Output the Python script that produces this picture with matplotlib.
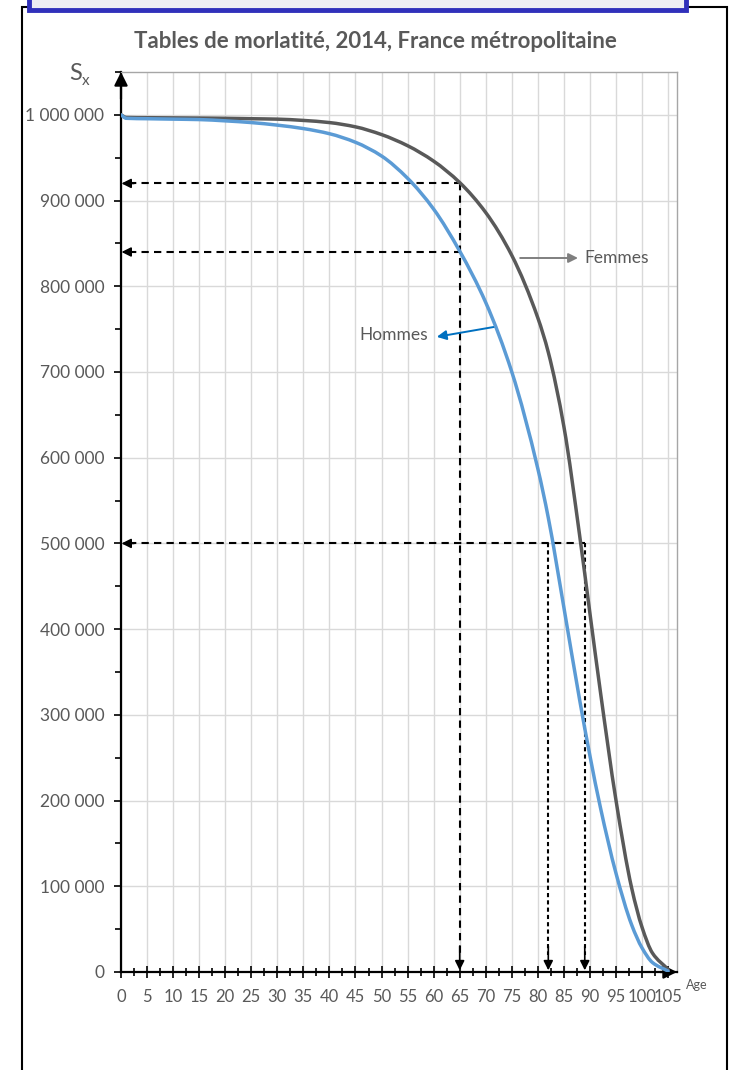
#!/usr/bin/env python3
"""Courbes de survie S_x, tables de mortalite 2014, France metropolitaine."""

import matplotlib
matplotlib.use("Agg")
import matplotlib.pyplot as plt
import numpy as np
from matplotlib.patches import Rectangle, PathPatch
from matplotlib.path import Path
from matplotlib.ticker import MultipleLocator, FuncFormatter

# Values
ages = [0, 1, 5, 10, 15, 20, 25, 30, 35, 40, 45, 50, 55, 60, 65, 70, 75,
        80, 82, 85, 88, 90, 92, 95, 98, 100, 102, 105]
hommes = [1000000, 996000, 995500, 995000, 994500, 993000, 991000, 988000,
          984000, 978000, 968000, 952000, 926000, 890000, 841000, 781000,
          700000, 587000, 530000, 425000, 318000, 252000, 192000, 115000,
          55000, 28000, 11000, 1000]
femmes = [1000000, 997000, 996700, 996500, 996300, 996000, 995500, 995000,
          993500, 991000, 986000, 977000, 964000, 946000, 921000, 886000,
          836000, 763000, 723000, 636000, 510000, 418000, 327000, 200000,
          98000, 52000, 22000, 3000]

age_retraite = 65
s_femmes_65 = 920000
s_hommes_65 = 840000
mediane_hommes = 82
mediane_femmes = 89
s_mediane = 500000

TITLE = "Tables de morlatité, 2014, France métropolitaine"
BLUE = "#5B9BD5"
DARK = "#595959"
TXT = "#595959"

plt.rcParams["font.family"] = ["Lato", "DejaVu Sans"]

W, H = 731, 1070
fig = plt.figure(figsize=(W / 100, H / 100), dpi=100)


def fx(px):
    return px / W


def fy(py):
    return 1 - py / H


def smooth_line(ax, x, y, **kw):
    # smoothed line: cubic Bezier segments through every data point,
    # tangents limited so the curve never overshoots the points
    x = np.asarray(x, float)
    y = np.asarray(y, float)
    h = np.diff(x)
    d = np.diff(y) / h
    m = np.empty_like(y)
    m[0], m[-1] = d[0], d[-1]
    for i in range(1, len(x) - 1):
        if d[i - 1] * d[i] <= 0:
            m[i] = 0.0
        else:
            w1 = 2 * h[i] + h[i - 1]
            w2 = h[i] + 2 * h[i - 1]
            m[i] = (w1 + w2) / (w1 / d[i - 1] + w2 / d[i])
    verts = [(x[0], y[0])]
    codes = [Path.MOVETO]
    for i in range(len(x) - 1):
        t = h[i] / 3
        verts += [(x[i] + t, y[i] + m[i] * t),
                  (x[i + 1] - t, y[i + 1] - m[i + 1] * t),
                  (x[i + 1], y[i + 1])]
        codes += [Path.CURVE4] * 3
    patch = PathPatch(Path(verts, codes), fill=False, **kw)
    ax.add_patch(patch)
    return patch


# outer frames
fig.patches.append(Rectangle((fx(22), fy(1075)), fx(727) - fx(22), fy(7) - fy(1075),
                             transform=fig.transFigure, fill=False,
                             edgecolor="black", lw=1.5))
fig.patches.append(Rectangle((fx(29), fy(10)), fx(686) - fx(29), 0.05,
                             transform=fig.transFigure, facecolor="#eeeef3",
                             edgecolor="#3030BB", lw=3.5))

ax = fig.add_axes([fx(121), fy(972), fx(677) - fx(121), fy(72) - fy(972)])

smooth_line(ax, ages, femmes, edgecolor=DARK, lw=2.5, zorder=4, capstyle="round")
smooth_line(ax, ages, hommes, edgecolor=BLUE, lw=2.5, zorder=5, capstyle="round")

# dashed reading lines
hdash = (0, (3.5, 2.5))
vdot = (0, (2, 1.5))
for s in (s_femmes_65, s_hommes_65):
    ax.plot([1.5, age_retraite], [s, s], color="black", lw=1.5, ls=hdash, zorder=3)
    ax.annotate("", xy=(0.1, s), xytext=(2.5, s),
                arrowprops=dict(arrowstyle="-|>", color="black", lw=1.2,
                                mutation_scale=14, shrinkA=0, shrinkB=0), zorder=6)
ax.plot([1.5, mediane_femmes], [s_mediane, s_mediane], color="black", lw=1.5,
        ls=hdash, zorder=3)
ax.annotate("", xy=(0.1, s_mediane), xytext=(2.5, s_mediane),
            arrowprops=dict(arrowstyle="-|>", color="black", lw=1.2,
                            mutation_scale=14, shrinkA=0, shrinkB=0), zorder=6)

ax.plot([age_retraite, age_retraite], [s_femmes_65, 20000], color="black",
        lw=1.5, ls=hdash, zorder=3)
for a in (mediane_hommes, mediane_femmes):
    ax.plot([a, a], [s_mediane, 20000], color="black", lw=1.5, ls=vdot, zorder=3)
for a in (age_retraite, mediane_hommes, mediane_femmes):
    ax.annotate("", xy=(a, 2000), xytext=(a, 30000),
                arrowprops=dict(arrowstyle="-|>", color="black", lw=1.2,
                                mutation_scale=14, shrinkA=0, shrinkB=0), zorder=6)

# series labels
ax.annotate("", xy=(87.7, 833000), xytext=(76.6, 833000),
            arrowprops=dict(arrowstyle="-|>", color="#7F7F7F", lw=1.4,
                            mutation_scale=14, shrinkA=0, shrinkB=0))
ax.text(89.0, 833000, "Femmes", color=TXT, fontsize=12.5, va="center", ha="left")
ax.annotate("", xy=(60.6, 741000), xytext=(72.0, 753000),
            arrowprops=dict(arrowstyle="-|>", color="#0070C0", lw=1.4,
                            mutation_scale=14, shrinkA=0, shrinkB=0))
ax.text(59.0, 743000, "Hommes", color=TXT, fontsize=12.5, va="center", ha="right")

# axes
ax.set_xlim(0, 106.7)
ax.set_ylim(0, 1050000)
ax.xaxis.set_minor_locator(MultipleLocator(2.5))
ax.set_xticks(range(0, 106, 5))
ax.set_yticks(range(0, 1000001, 100000))
ax.yaxis.set_minor_locator(MultipleLocator(50000))
ax.yaxis.set_major_formatter(FuncFormatter(lambda v, p: f"{int(v):,}".replace(",", " ")))
ax.grid(True, color="#D9D9D9", lw=1, zorder=0)
ax.set_axisbelow(True)

ax.tick_params(axis="x", which="major", direction="inout", length=8, width=1.2,
               color="black", labelcolor=TXT, labelsize=12, pad=8)
ax.tick_params(axis="x", which="minor", direction="inout", length=6, width=1.2,
               color="black")
ax.tick_params(axis="y", which="major", direction="out", length=5, width=1.2,
               color="black", labelcolor=TXT, labelsize=12.5, pad=7)
ax.tick_params(axis="y", which="minor", direction="out", length=4, width=1.2,
               color="black")

for side in ("left", "bottom"):
    ax.spines[side].set_color("black")
    ax.spines[side].set_linewidth(1.6)
for side in ("top", "right"):
    ax.spines[side].set_color("#A6A6A6")
    ax.spines[side].set_linewidth(1)

ax.annotate("", xy=(0, 1.0), xycoords="axes fraction", xytext=(0, 0.97),
            arrowprops=dict(arrowstyle="-|>", color="black", lw=1.6,
                            mutation_scale=20, shrinkA=0, shrinkB=0))
ax.annotate("", xy=(1.0, 0), xycoords="axes fraction", xytext=(0.97, 0),
            arrowprops=dict(arrowstyle="-|>", color="black", lw=1.6,
                            mutation_scale=20, shrinkA=0, shrinkB=0))

# texts
fig.text(fx(375), fy(41), TITLE, ha="center", va="center", fontsize=16,
         fontweight="bold", color=TXT)
fig.text(fx(82), fy(73), "S", ha="right", va="center", fontsize=17, color=TXT)
fig.text(fx(82), fy(81), "x", ha="left", va="center", fontsize=11, color=TXT)
fig.text(fx(697), fy(985), "Age", ha="center", va="center", fontsize=9, color=TXT)

fig.savefig("out.png", dpi=100)
